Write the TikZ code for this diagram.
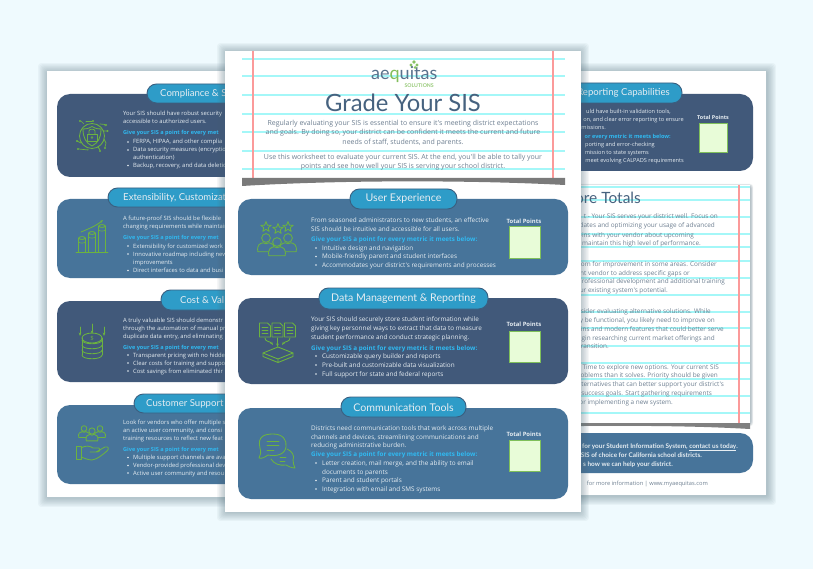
\documentclass[tikz,border=0pt]{standalone}
\usepackage{fontspec}
\setmainfont{Lato}
\newfontfamily\headf{Lato}
\newfontfamily\bodyf{Open Sans}
\definecolor{bgc}{HTML}{EFFAFE}
\definecolor{med}{HTML}{47749A}
\definecolor{dark}{HTML}{41597A}
\definecolor{pillc}{HTML}{2E9CC8}
\definecolor{pillb}{HTML}{3A5F80}
\definecolor{cyanl}{HTML}{A4F7F8}
\definecolor{redl}{HTML}{FB9A9A}
\definecolor{cyant}{HTML}{30BAF2}
\definecolor{grn}{HTML}{6CB33F}
\definecolor{boxf}{HTML}{E8FCD8}
\definecolor{boxb}{HTML}{7FC05A}
\definecolor{titlec}{HTML}{46627F}
\definecolor{grayt}{HTML}{6F8092}
\definecolor{lightt}{HTML}{E6EDF2}
\definecolor{shad}{HTML}{4F6B78}
\tikzset{
  panel/.style={rounded corners=13pt},
  pillbox/.style={rounded corners=9.5pt,fill=pillc,draw=pillb,line width=.9pt},
  pilltext/.style={inner sep=0,text=lightt,font=\headf\fontsize{#1}{#1}\selectfont},
  smallline/.style={inner sep=0,anchor=base west,yshift=-2pt,text=lightt,font=\bodyf\fontsize{5.85}{6}\selectfont},
  smallcy/.style={inner sep=0,anchor=base west,yshift=-2pt,text=cyant,font=\bodyf\bfseries\fontsize{5.55}{6}\selectfont},
  rline/.style={inner sep=0,anchor=base east,yshift=-2pt,text=lightt,font=\bodyf\fontsize{5.6}{6}\selectfont},
  rcy/.style={inner sep=0,anchor=base east,yshift=-2pt,text=cyant,font=\bodyf\bfseries\fontsize{5.55}{6}\selectfont},
  rgray/.style={inner sep=0,anchor=base east,yshift=-2pt,text=grayt,font=\bodyf\fontsize{6.4}{7}\selectfont},
  rfoot/.style={inner sep=0,anchor=base east,yshift=-2pt,text=grayt,font=\bodyf\fontsize{5.7}{7}\selectfont},
  rwhite/.style={inner sep=0,anchor=base east,yshift=-2pt,text=lightt,font=\headf\bfseries\fontsize{6.4}{7}\selectfont},
  cline/.style={inner sep=0,anchor=base west,yshift=-2.2pt,text=lightt,font=\bodyf\fontsize{6.38}{7}\selectfont},
  ccy/.style={inner sep=0,anchor=base west,yshift=-2.2pt,text=cyant,font=\bodyf\bfseries\fontsize{6.3}{7}\selectfont},
  ctext/.style={inner sep=0,anchor=base,yshift=-2.2pt,text=grayt,font=\bodyf\fontsize{7}{8}\selectfont},
  tp/.style={inner sep=0,text=lightt,font=\bodyf\bfseries\fontsize{#1}{7}\selectfont},
  scorebox/.style={fill=boxf,draw=boxb,line width=1pt},
  ico/.style={draw=grn,line width=.85pt,line join=round,line cap=round}
}
\newcommand\softbox[7]{% x1 y1 x2 y2 spread colour opacity
  \foreach \i in {1,...,8}{
    \pgfmathsetmacro\dd{#5*(1-\i/8)}
    \fill[#6,opacity=#7,rounded corners=3pt] ({#1-\dd},{#2-\dd}) rectangle ({#3+\dd},{#4+\dd});
  }}
\newcommand\hrulecy[3]{\fill[cyanl] (#1,#3-.6) rectangle (#2,#3+.6);}
\newcommand\vrulered[3]{\fill[redl] (#1-.55,#2) rectangle (#1+.55,#3);}
\newcommand\bul[2]{\fill[lightt] (#1,#2) circle (.85);}
\newcommand\personicon[4]{% x y scale fill
  \begin{scope}[shift={(#1,#2)},scale=#3]
    \draw[ico,fill=#4] (-8.5,14.5) .. controls (-10,7) and (-6,5.5) .. (-3,5) .. controls (-1,6.5) and (1,6.5) .. (3,5) .. controls (6,5.5) and (10,7) .. (8.5,14.5) -- cycle;
    \draw[ico,fill=#4] (0,0) circle (4.6);
  \end{scope}}
\newcommand\stariconm[2]{%
  \draw[ico] ($(#1,#2)+(270:5.4)$) -- ($(#1,#2)+(306:2.3)$) -- ($(#1,#2)+(342:5.4)$) -- ($(#1,#2)+(18:2.3)$) -- ($(#1,#2)+(54:5.4)$) -- ($(#1,#2)+(90:2.3)$) -- ($(#1,#2)+(126:5.4)$) -- ($(#1,#2)+(162:2.3)$) -- ($(#1,#2)+(198:5.4)$) -- ($(#1,#2)+(234:2.3)$) -- cycle;}
\newcommand\docicon[2]{%
  \draw[ico] (#1-5.5,#2-7) -- (#1+2.5,#2-7) -- (#1+5.5,#2-4) -- (#1+5.5,#2+7) -- (#1-5.5,#2+7) -- cycle;
  \draw[ico,line width=.6pt] (#1-3,#2-3) -- (#1+3,#2-3) (#1-3,#2) -- (#1+3,#2) (#1-3,#2+3) -- (#1+3,#2+3);}
\usetikzlibrary{calc,arrows.meta}
\begin{document}
\begin{tikzpicture}[x=1pt,y=-1pt]
\useasboundingbox (0,0) rectangle (813,569);
\fill[bgc] (0,0) rectangle (813,569);

%% ---------- LEFT PAGE
\softbox{46}{71}{400}{499}{9}{shad}{.05}
\fill[white] (47,71) rectangle (400,497);
\fill[dark,panel]  (57,94) rectangle (390,177);
\fill[med,panel]   (57,199) rectangle (390,278);
\fill[dark,panel]  (57,301) rectangle (390,382);
\fill[med,panel]   (57,405) rectangle (390,484);
\draw[pillbox] (147,84) rectangle (300,103);
\node[pilltext=9.6,anchor=west] at (160,93.5) {Compliance \& S};
\draw[pillbox] (108,188) rectangle (340,207);
\node[pilltext=9.6,anchor=west] at (123,197.5) {Extensibility, Customizat};
\draw[pillbox] (161,290) rectangle (300,310);
\node[pilltext=9.6,anchor=west] at (180,300) {Cost \& Val};
\draw[pillbox] (134,394) rectangle (320,413);
\node[pilltext=9.6,anchor=west] at (146,403.5) {Customer Support};

\node[smallline] at (123,114) {Your SIS should have robust security};
\node[smallline] at (123,122) {accessible to authorized users.};
\node[smallcy]   at (123,133) {Give your SIS a point for every met};
\bul{128}{142}\node[smallline] at (133,142) {FERPA, HIPAA, and other complia};
\bul{128}{150}\node[smallline] at (133,150) {Data security measures (encryptio};
\node[smallline] at (133,157.5) {authentication)};
\bul{128}{165.5}\node[smallline] at (133,165.5) {Backup, recovery, and data deletio};

\node[smallline] at (123,219) {A future-proof SIS should be flexible};
\node[smallline] at (123,227) {changing requirements while maintain};
\node[smallcy]   at (123,238) {Give your SIS a point for every met};
\bul{128}{246}\node[smallline] at (133,246) {Extensibility for customized work};
\bul{128}{254}\node[smallline] at (133,254) {Innovative roadmap including new};
\node[smallline] at (133,262.5) {improvements};
\bul{128}{270.5}\node[smallline] at (133,270.5) {Direct interfaces to data and busi};

\node[smallline] at (123,320) {A truly valuable SIS should demonstr};
\node[smallline] at (123,328) {through the automation of manual pr};
\node[smallline] at (123,336) {duplicate data entry, and eliminating};
\node[smallcy]   at (123,347) {Give your SIS a point for every met};
\bul{128}{355}\node[smallline] at (133,355) {Transparent pricing with no hidde};
\bul{128}{363}\node[smallline] at (133,363) {Clear costs for training and suppo};
\bul{128}{371}\node[smallline] at (133,371) {Cost savings from eliminated thir};

\node[smallline] at (123,422) {Look for vendors who offer multiple s};
\node[smallline] at (123,430.5) {an active user community, and consi};
\node[smallline] at (123,438.5) {training resources to reflect new feat};
\node[smallcy]   at (123,449) {Give your SIS a point for every met};
\bul{128}{457.5}\node[smallline] at (133,457.5) {Multiple support channels are ava};
\bul{128}{465.5}\node[smallline] at (133,465.5) {Vendor-provided professional dev};
\bul{128}{473}\node[smallline] at (133,473) {Active user community and resou};

% shield icon
\draw[ico] (92,136) circle (12.5);
\draw[ico] (92,126.5) .. controls (96,129) and (99,129) .. (101,129) .. controls (101,138) and (98,143) .. (92,146) .. controls (86,143) and (83,138) .. (83,129) .. controls (85,129) and (88,129) .. (92,126.5) -- cycle;
\draw[ico,line width=.7pt] (87,134) rectangle (97,141);
\draw[ico,line width=.7pt] (89,134) -- (89,131) .. controls (89,128.5) and (95,128.5) .. (95,131) -- (95,134);
\draw[ico,line width=.7pt] (92,137.5) circle (1);
\draw[ico,line width=.7pt] (84,124) -- (81,121) (86,122) -- (86,121.5) -- (92,121.5)
  (100,124) -- (105,124.5) -- (105,126) (103,131) -- (107,131) (104,139) -- (106,143) -- (105,147)
  (98,147) -- (100,150) (88,149) -- (88,150) -- (79,149) (81,143) -- (77,141);
\foreach \a/\b in {80/121,93/121,106/125,107.5/131,105/148,100/151,78/149,77/141}{\fill[grn] (\a,\b) circle (1.2);}
% bars icon
\draw[ico] (76,252) -- (108,252);
\foreach \a/\b in {82/238,92/233,102/226}{
  \draw[ico] (\a-3.2,252) -- (\a-3.2,\b) (\a+3.2,252) -- (\a+3.2,\b);
  \draw[ico] (\a,\b) ellipse (3.2 and 1.4);
  \draw[ico,line width=.6pt] (\a-3.2,\b+4) .. controls (\a-2,\b+5.5) and (\a+2,\b+5.5) .. (\a+3.2,\b+4);
}
\draw[ico,-{Stealth[length=3pt]}] (81,232) .. controls (88,229) and (96,226) .. (103,220);
% coins icon
\foreach \a/\b/\c in {80/327/336,92/324/334,104/327/336}{\draw[ico,-{Stealth[length=3.5pt]}] (\a,\b) -- (\a,\c);}
\foreach \b in {340,345,350,355}{
  \draw[ico] (82,\b) .. controls (82,\b+5) and (102,\b+5) .. (102,\b);}
\draw[ico] (92,338) ellipse (10 and 5);
\draw[ico] (82,338) -- (82,355) (102,338) -- (102,355);
\node[inner sep=0,text=grn,font=\bodyf\fontsize{6}{7}\selectfont] at (92,338) {\$};
% support icon
\personicon{84}{428.5}{.62}{med}
\personicon{100}{428.5}{.62}{med}
\personicon{92}{431}{.68}{med}
\draw[ico] (76,446) rectangle (81,459);
\draw[ico] (81,448) .. controls (86,445) and (90,446) .. (93,448) -- (99,448) .. controls (101,449) and (100,452) .. (97,452) -- (90,452)
  (96,452) -- (105,447) .. controls (109,446) and (109,449) .. (107,451) .. controls (102,455) and (98,459) .. (92,460) .. controls (88,460) and (84,458) .. (81,457);

%% ---------- RIGHT PAGE
\softbox{420}{71}{768}{497}{9}{shad}{.055}
\fill[white] (420,71) rectangle (766,495);
\fill[dark,panel] (430,94) rectangle (753,171);
\draw[pillbox] (500,83) rectangle (682,103);
\node[pilltext=9.6,anchor=east] at (670,93) {Reporting Capabilities};
\node[rline] at (671,112) {uld have built-in validation tools,};
\node[rline] at (684,120) {on, and clear error reporting to ensure};
\node[rline] at (606,127.5) {missions.};
\node[rcy]   at (671,137) {or every metric it meets below:};
\node[rline] at (655,145) {porting and error-checking};
\node[rline] at (649,153) {mission to state systems};
\node[rline] at (684,161) {meet evolving CALPADS requirements};
\node[tp=5.4] at (713,117) {Total Points};
\draw[scorebox] (699,124) rectangle (727,153);

\softbox{450}{186}{751}{424}{2.5}{shad}{.06}
\fill[white] (450,185) rectangle (750,423);
\fill[black!50] (450,423) -- (750,423) -- (750,429) .. controls (680,425) and (600,425) .. (450,428) -- cycle;
\foreach \y in {187,200,217,234,247,261,278,295,312,328,346,363,379,396,413}{\hrulecy{450}{750}{\y}}
\vrulered{739}{185}{423}
\node[inner sep=0,anchor=east,text=titlec,font=\headf\fontsize{15.5}{18}\selectfont] at (641,198) {ore Totals};
\node[rgray] at (718,217) {t - Your SIS serves your district well. Focus on};
\node[rgray] at (715,226) {dates and optimizing your usage of advanced};
\node[rgray] at (694,235) {-ins with your vendor about upcoming};
\node[rgray] at (701,244) {maintain this high level of performance.};
\node[rgray] at (717,264) {oom for improvement in some areas. Consider};
\node[rgray] at (690,273) {nt vendor to address specific gaps or};
\node[rgray] at (725,281.5) {rofessional development and additional training};
\node[rgray] at (668,290) {ur existing system's potential.};
\node[rgray] at (711,311) {sider evaluating alternative solutions. While};
\node[rgray] at (715,320) {y be functional, you likely need to improve on};
\node[rgray] at (724,329) {ins and modern features that could better serve};
\node[rgray] at (715,338) {gin researching current market offerings and};
\node[rgray] at (609,346.5) {transition.};
\node[rgray] at (719,367) {Time to explore new options. Your current SIS};
\node[rgray] at (718,375.5) {oblems than it solves. Priority should be given};
\node[rgray] at (724,384.5) {ternatives that can better support your district's};
\node[rgray] at (712,393) {success goals. Start gathering requirements};
\node[rgray] at (673,402) {or implementing a new system.};

\fill[med,panel] (430,433) rectangle (753,473);
\node[rwhite] at (738,446) {for your Student Information System, \underline{contact us today}.};
\node[rwhite] at (702,455) {SIS of choice for California school districts.};
\node[rwhite] at (673,464) {s how we can help your district.};
\node[rfoot] at (708,483.5) {for more information | www.myaequitas.com};

%% ---------- CENTRE PAGE
\softbox{225}{51}{581}{513}{9}{shad}{.055}
\fill[white] (225,51) rectangle (581,512);
\foreach \y in {59,76,95,114,132,151,169}{\hrulecy{242}{565}{\y}}
\vrulered{253}{51}{178}
\vrulered{553}{51}{178}
\fill[black!52] (242,178) -- (565,178) -- (565,185) .. controls (470,180) and (340,180) .. (242,186) -- cycle;

% logo
\node[inner sep=0,anchor=base west,font=\headf\fontsize{18}{19}\selectfont] at (371,79.5) {\textcolor{titlec!90!white}{ae}\textcolor{grn!85!white}{q}\textcolor{titlec!90!white}{uitas}};
\node[inner sep=0,anchor=east,text=grn!70!white,font=\headf\bfseries\fontsize{5.2}{6}\selectfont] at (434,85.5) {SOLUTIONS};
\fill[grn!80!white] (411,65) circle (1.7) (414,62) circle (1.8) (417,65) circle (1.7) (415,67.5) circle (1.5);

\node[inner sep=0,text=titlec,font=\headf\fontsize{23.8}{26}\selectfont] at (403,103) {Grade Your SIS};
\node[ctext] at (403,123) {Regularly evaluating your SIS is essential to ensure it's meeting district expectations};
\node[ctext] at (403,132.5) {and goals. By doing so, your district can be confident it meets the current and future};
\node[ctext] at (403,142) {needs of staff, students, and parents.};
\node[ctext] at (403,157) {Use this worksheet to evaluate your current SIS. At the end, you'll be able to tally your};
\node[ctext] at (403,166.5) {points and see how well your SIS is serving your school district.};

\fill[med,panel]  (238,199) rectangle (568,275);
\fill[dark,panel] (238,298) rectangle (568,384);
\fill[med,panel]  (238,408) rectangle (568,499);

\draw[pillbox] (350,189) rectangle (457,209);
\node[pilltext=10.6] at (403.5,199) {User Experience};
\draw[pillbox] (319,288) rectangle (488,309);
\node[pilltext=10.6] at (403.5,298.5) {Data Management \& Reporting};
\draw[pillbox] (341,397) rectangle (466,417);
\node[pilltext=10.6] at (403.5,407.5) {Communication Tools};

\node[cline] at (311,220) {From seasoned administrators to new students, an effective};
\node[cline] at (311,229) {SIS should be intuitive and accessible for all users.};
\node[ccy]   at (311,239) {Give your SIS a point for every metric it meets below:};
\bul{316}{248}\node[cline] at (322,248) {Intuitive design and navigation};
\bul{316}{256.5}\node[cline] at (322,256.5) {Mobile-friendly parent and student interfaces};
\bul{316}{265}\node[cline] at (322,265) {Accommodates your district's requirements and processes};

\node[cline] at (311,319) {Your SIS should securely store student information while};
\node[cline] at (311,328) {giving key personnel ways to extract that data to measure};
\node[cline] at (311,337) {student performance and conduct strategic planning.};
\node[ccy]   at (311,348) {Give your SIS a point for every metric it meets below:};
\bul{316}{356}\node[cline] at (322,356) {Customizable query builder and reports};
\bul{316}{365}\node[cline] at (322,365) {Pre-built and customizable data visualization};
\bul{316}{374}\node[cline] at (322,374) {Full support for state and federal reports};

\node[cline] at (311,428) {Districts need communication tools that work across multiple};
\node[cline] at (311,437) {channels and devices, streamlining communications and};
\node[cline] at (311,445.5) {reducing administrative burden.};
\node[ccy]   at (311,454.5) {Give your SIS a point for every metric it meets below:};
\bul{316}{463}\node[cline] at (322,463) {Letter creation, mail merge, and the ability to email};
\node[cline] at (322,472) {documents to parents};
\bul{316}{480.5}\node[cline] at (322,480.5) {Parent and student portals};
\bul{316}{489}\node[cline] at (322,489) {Integration with email and SMS systems};

\node[tp=5.9] at (524,221) {Total Points};
\draw[scorebox] (509,227) rectangle (540,258);
\node[tp=5.9] at (524,324) {Total Points};
\draw[scorebox] (509,331) rectangle (540,362);
\node[tp=5.9] at (524,434) {Total Points};
\draw[scorebox] (509,440) rectangle (540,471);

% people + stars icon
\stariconm{266}{227}
\stariconm{278}{229}
\stariconm{288}{227}
\personicon{266}{238}{.95}{med}
\personicon{288}{238}{.95}{med}
\personicon{277}{242}{.95}{med}

% data icon
\docicon{265}{330}
\docicon{277.5}{330}
\docicon{290}{330}
\draw[ico,-{Stealth[length=3.5pt]}] (265,338) .. controls (265,342) and (270,341) .. (273,345);
\draw[ico,-{Stealth[length=3.5pt]}] (277.5,338) -- (277.5,347);
\draw[ico,-{Stealth[length=3.5pt]}] (290,338) .. controls (290,342) and (285,341) .. (282,345);
\draw[ico] (263,353) -- (278,347) -- (293,353) -- (278,359) -- cycle;
\draw[ico] (263,353) -- (263,356.5) -- (278,362.5) -- (293,356.5) -- (293,353) (278,359) -- (278,362.5);

% speech icon
\draw[ico] (260,448) .. controls (257,436) and (265,434) .. (273,434) .. controls (283,434) and (287,440) .. (286,447) .. controls (285,454) and (277,457) .. (268,455) .. controls (265,457) and (262,459) .. (259,458) .. controls (261,455) and (261,452) .. (260,448) -- cycle;
\draw[ico,line width=.8pt] (267,441) -- (279,441) (267,445.5) -- (279,445.5) (267,450) -- (274,450);
\draw[ico] (287,449) .. controls (292,451) and (295,456) .. (293,460) .. controls (293,463) and (294,466) .. (295,468) .. controls (291,468) and (288,466) .. (286,465) .. controls (280,466) and (274,464) .. (271,459);
\draw[ico,line width=.8pt] (280,457) -- (286,457) (280,461) -- (285,461);
\end{tikzpicture}
\end{document}
